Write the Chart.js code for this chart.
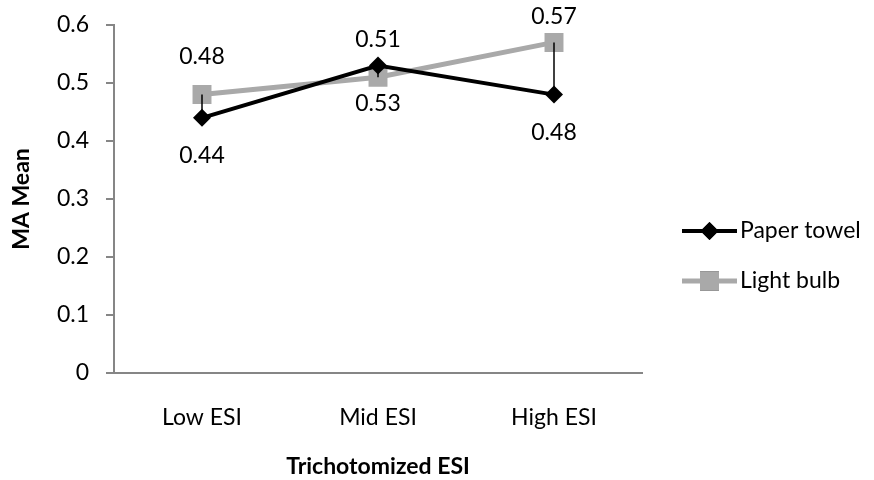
<!DOCTYPE html>
<html>
<head>
<meta charset="utf-8">
<script src="https://cdn.jsdelivr.net/npm/chart.js@4.4.1/dist/chart.umd.min.js"></script>
<style>
  html, body { margin: 0; padding: 0; background: #fff; }
  #wrap { width: 874px; height: 480px; }
</style>
</head>
<body>
<div id="wrap"><canvas id="c" width="874" height="480"></canvas></div>
<script>
// Categories and series values
const categories = ['Low ESI', 'Mid ESI', 'High ESI'];
const paperTowel = [0.44, 0.53, 0.48];
const lightBulb = [0.48, 0.51, 0.57];
const seriesNames = ['Paper towel', 'Light bulb'];

const AXIS = '#868686';
const FONT = 'Lato';

// Value labels: light bulb above its points, paper towel below
const valueLabels = {
  id: 'valueLabels',
  afterDatasetsDraw(chart) {
    const ctx = chart.ctx;
    ctx.save();
    ctx.font = '23px ' + FONT;
    ctx.fillStyle = '#000';
    ctx.textAlign = 'center';
    ctx.textBaseline = 'middle';
    chart.data.datasets.forEach((ds, di) => {
      const meta = chart.getDatasetMeta(di);
      meta.data.forEach((pt, i) => {
        let y = ds.labelSide === 'above' ? pt.y - 38 : pt.y + 38;
        y = Math.max(y, chart.chartArea.top - 8);
        ctx.fillText(ds.data[i].toFixed(2), pt.x, y);
      });
    });
    ctx.restore();
  }
};

// High-low lines joining the two series at each category
const highLow = {
  id: 'highLow',
  afterDatasetsDraw(chart) {
    const ctx = chart.ctx;
    const metas = chart.data.datasets.map((d, i) => chart.getDatasetMeta(i));
    ctx.save();
    ctx.strokeStyle = '#000';
    ctx.lineWidth = 1.5;
    categories.forEach((c, i) => {
      const ys = metas.map(m => m.data[i].y);
      const x = metas[0].data[i].x;
      ctx.beginPath();
      ctx.moveTo(x, Math.min(...ys));
      ctx.lineTo(x, Math.max(...ys));
      ctx.stroke();
    });
    ctx.restore();
  }
};

// Legend with line + marker samples, to the right of the plot
const sideLegend = {
  id: 'sideLegend',
  afterDraw(chart) {
    const ctx = chart.ctx;
    const area = chart.chartArea;
    const x0 = area.right + 40;
    const rows = [area.bottom - 142, area.bottom - 92];
    ctx.save();
    chart.data.datasets.forEach((ds, i) => {
      const y = rows[i];
      ctx.strokeStyle = ds.borderColor;
      ctx.lineWidth = ds.borderWidth;
      ctx.beginPath();
      ctx.moveTo(x0, y);
      ctx.lineTo(x0 + 55, y);
      ctx.stroke();
      Chart.helpers.drawPoint(ctx, {
        pointStyle: ds.pointStyle,
        radius: ds.pointRadius,
        rotation: 0,
        borderWidth: 0
      }, x0 + 27.5, y);
      ctx.fillStyle = ds.pointBackgroundColor;
      ctx.fill();
      ctx.fillStyle = '#000';
      ctx.font = '23px ' + FONT;
      ctx.textAlign = 'left';
      ctx.textBaseline = 'middle';
      ctx.fillText(ds.label, x0 + 58, y);
    });
    ctx.restore();
  }
};

function build() {
  Chart.defaults.font.family = FONT;
  Chart.defaults.font.size = 23;
  Chart.defaults.color = '#000';

  new Chart(document.getElementById('c'), {
    type: 'line',
    data: {
      labels: categories,
      datasets: [
        {
          label: seriesNames[0],
          data: paperTowel,
          borderColor: '#000000',
          borderWidth: 4,
          pointStyle: 'rectRot',
          pointRadius: 9,
          pointBackgroundColor: '#000000',
          pointBorderWidth: 0,
          pointHoverRadius: 9,
          labelSide: 'below',
          tension: 0
        },
        {
          label: seriesNames[1],
          data: lightBulb,
          borderColor: '#A9A9A9',
          borderWidth: 5,
          pointStyle: 'rect',
          pointRadius: 13.4,
          pointBackgroundColor: '#A9A9A9',
          pointBorderWidth: 0,
          pointHoverRadius: 13.4,
          labelSide: 'above',
          tension: 0
        }
      ]
    },
    options: {
      responsive: false,
      animation: false,
      events: [],
      layout: { padding: { left: 0, right: 232, top: 25, bottom: 0 } },
      plugins: {
        legend: { display: false },
        tooltip: { enabled: false }
      },
      scales: {
        x: {
          type: 'category',
          offset: true,
          grid: { display: false },
          border: { display: true, color: AXIS, width: 2 },
          ticks: { padding: 23, font: { size: 23 }, color: '#000' },
          title: {
            display: true,
            text: 'Trichotomized ESI',
            font: { size: 23, weight: 'bold' },
            color: '#000',
            padding: { top: 0, bottom: 0 }
          },
          afterFit(s) { s.height = 107; }
        },
        y: {
          min: 0,
          max: 0.6,
          ticks: {
            stepSize: 0.1,
            padding: 17,
            font: { size: 23 },
            color: '#000',
            callback: v => (v === 0 ? '0' : v.toFixed(1))
          },
          grid: {
            drawOnChartArea: false,
            drawTicks: true,
            tickLength: 8,
            color: AXIS,
            lineWidth: 2
          },
          border: { display: true, color: AXIS, width: 2 },
          title: {
            display: true,
            text: 'MA Mean',
            font: { size: 23, weight: 'bold' },
            color: '#000',
            padding: { top: 8, bottom: 0 }
          },
          afterFit(s) {
            s.width = 114;
            s.paddingTop = 0;
            s.paddingBottom = 0;
          }
        }
      }
    },
    plugins: [highLow, valueLabels, sideLegend]
  });
}

if (document.fonts && document.fonts.load) {
  Promise.all([
    document.fonts.load('23px ' + FONT),
    document.fonts.load('bold 23px ' + FONT)
  ]).then(build, build);
} else {
  build();
}
</script>
</body>
</html>
